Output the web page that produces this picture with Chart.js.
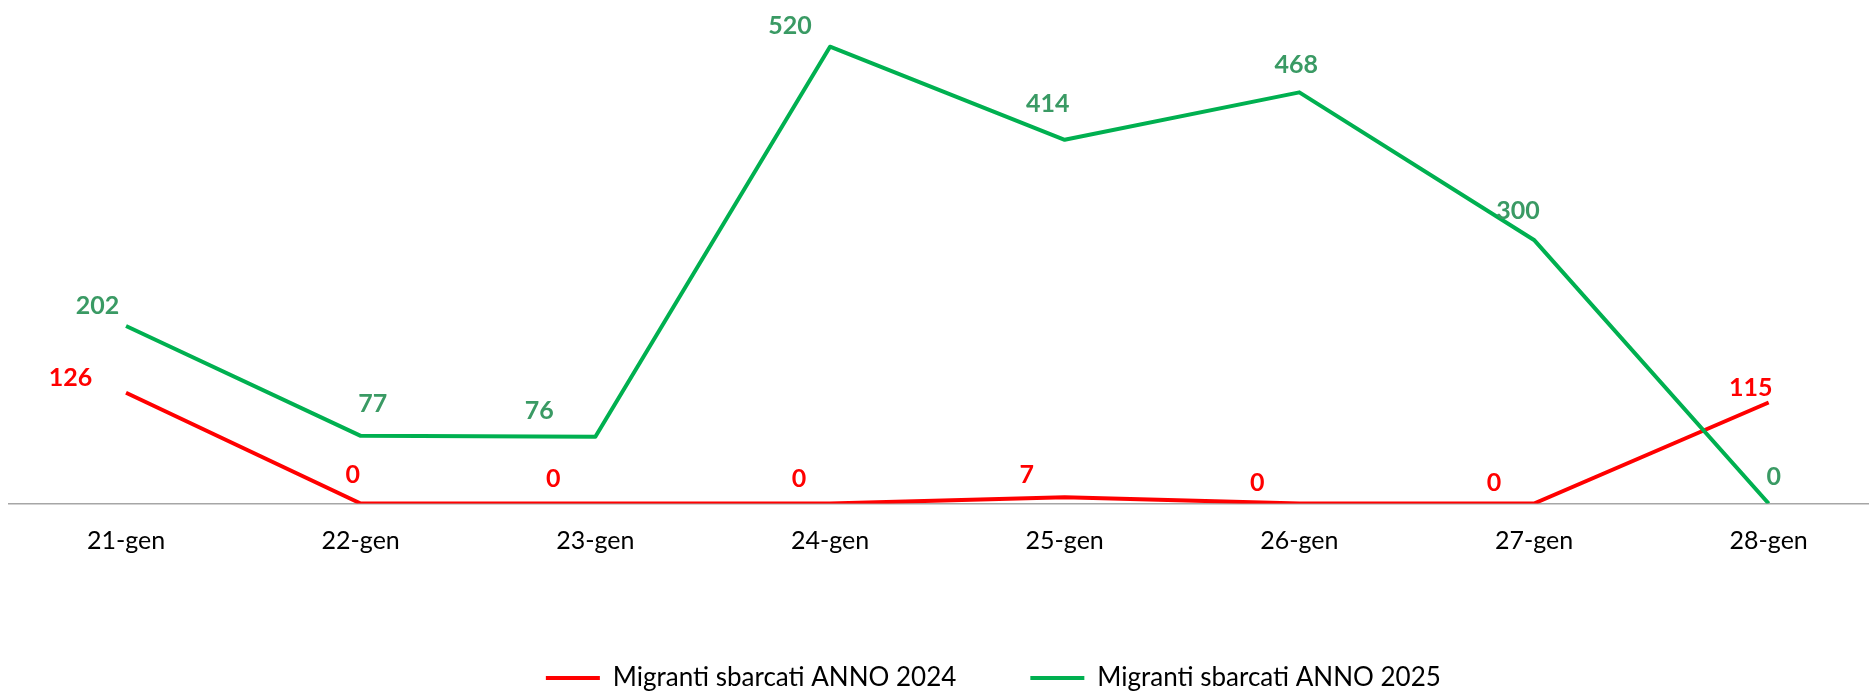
<!DOCTYPE html>
<html>
<head>
<meta charset="utf-8">
<script src="https://cdn.jsdelivr.net/npm/chart.js@4/dist/chart.umd.min.js"></script>
<style>
  html, body { margin: 0; padding: 0; width: 1869px; height: 692px; overflow: hidden; background: #fff; }
  #wrap { position: absolute; left: 0; top: -40px; }
</style>
</head>
<body>
<div id="wrap"><canvas id="c" width="1986" height="741"></canvas></div>
<script>
const categories = ['21-gen', '22-gen', '23-gen', '24-gen', '25-gen', '26-gen', '27-gen', '28-gen'];
const series2024 = [126, 0, 0, 0, 7, 0, 0, 115];
const series2025 = [202, 77, 76, 520, 414, 468, 300, 0];
const seriesNames = ['Migranti sbarcati ANNO 2024', 'Migranti sbarcati ANNO 2025'];

const RED = '#FF0000';
const GREEN = '#00B050';
const GREEN_LABEL = '#3A9A64';
const FONT = 'Lato, "Open Sans", sans-serif';

// label placement offsets (style only): text centre relative to the point
const labelOffsets = [
  { dx: [-55.5, -8, -42, -31, -38, -42, -40, -18], dy: [-15, -28.5, -24.5, -24.5, -22, -20.5, -21, -15] },
  { dx: [-28.5, 12, -56, -40, -17, -3, -16, 5], dy: [-20, -32, -26, -21, -36, -27, -29, -27] }
];
const labelColors = [RED, GREEN_LABEL];

const dataLabelPlugin = {
  id: 'dataLabels',
  afterDatasetsDraw(chart) {
    const ctx = chart.ctx;
    ctx.save();
    ctx.font = 'bold 25px ' + FONT;
    ctx.textAlign = 'center';
    ctx.textBaseline = 'middle';
    chart.data.datasets.forEach((ds, di) => {
      const meta = chart.getDatasetMeta(di);
      ctx.fillStyle = labelColors[di];
      meta.data.forEach((pt, i) => {
        const off = labelOffsets[di];
        ctx.fillText(String(ds.data[i]), pt.x + off.dx[i], pt.y + off.dy[i]);
      });
    });
    ctx.restore();
  }
};

const legendShiftPlugin = {
  id: 'legendShift',
  afterLayout(chart) {
    const lg = chart.legend;
    if (lg) { lg.left += 46; lg.right += 46; }
  }
};

new Chart(document.getElementById('c'), {
  type: 'line',
  data: {
    labels: categories,
    datasets: [
      { label: seriesNames[0], data: series2024, borderColor: RED, backgroundColor: RED,
        borderWidth: 4, pointRadius: 0, tension: 0, order: 1, borderJoinStyle: 'round' },
      { label: seriesNames[1], data: series2025, borderColor: GREEN, backgroundColor: GREEN,
        borderWidth: 4, pointRadius: 0, tension: 0, order: 0, borderJoinStyle: 'round' }
    ]
  },
  options: {
    responsive: false,
    animation: false,
    events: [],
    layout: { padding: { left: 8.7, right: 100, top: 16.4, bottom: 0 } },
    scales: {
      x: {
        offset: true,
        grid: { display: false, drawTicks: false },
        border: { display: true, color: '#A6A6A6', width: 1.5 },
        ticks: { color: '#000', font: { family: FONT, size: 25 }, padding: 22, maxRotation: 0, autoSkip: false },
        afterFit(scale) { scale.height = 87.5; }
      },
      y: {
        display: false,
        min: 0,
        max: 600
      }
    },
    plugins: {
      legend: {
        display: true,
        position: 'bottom',
        labels: {
          color: '#000',
          font: { family: FONT, size: 26 },
          boxWidth: 54,
          boxHeight: 4,
          padding: 74,
          sort: (a, b) => a.datasetIndex - b.datasetIndex,
          generateLabels(chart) {
            return chart.data.datasets.map((ds, i) => ({
              text: ds.label,
              fillStyle: ds.borderColor,
              strokeStyle: ds.borderColor,
              lineWidth: 0,
              hidden: false,
              datasetIndex: i,
              fontColor: '#000'
            }));
          }
        }
      },
      tooltip: { enabled: false }
    }
  },
  plugins: [dataLabelPlugin, legendShiftPlugin]
});
</script>
</body>
</html>
